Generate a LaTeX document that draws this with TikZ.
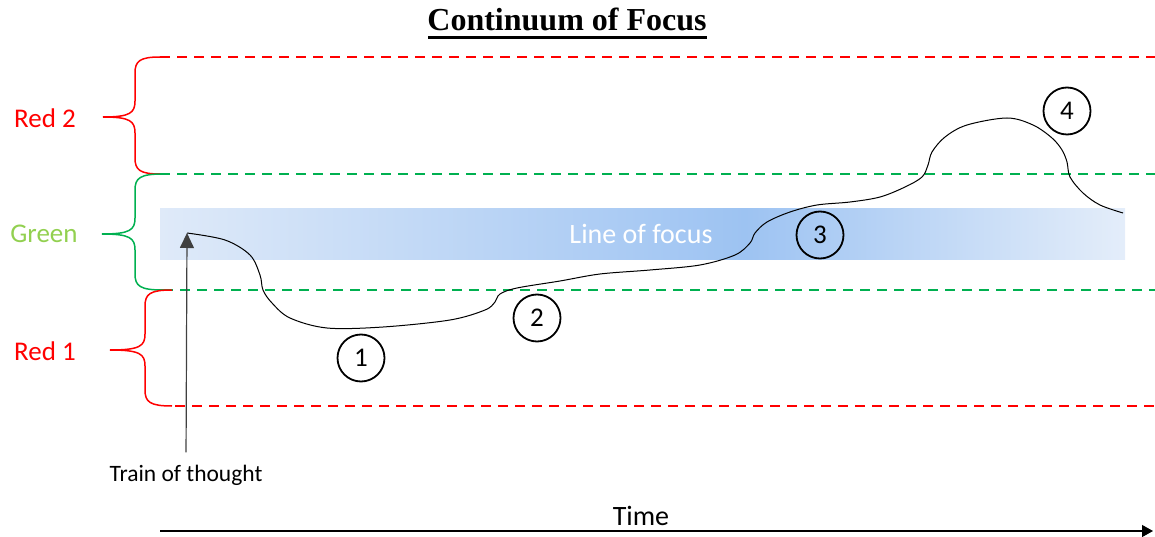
\documentclass[tikz,border=0pt]{standalone}
\usepackage{fontspec}
\setmainfont{Carlito}
\newfontfamily\titlefont{Liberation Serif}
\usetikzlibrary{arrows.meta}
\definecolor{myred}{HTML}{FF0000}
\definecolor{mygreen}{HTML}{00B050}
\definecolor{lblgreen}{HTML}{92D050}
\definecolor{bandlight}{HTML}{DFEAF9}
\definecolor{banddark}{HTML}{9DC3F2}
\newcommand\mybrace[7]{% color, xend, xbody, xtip, top, mid, bot
  \draw[#1, line width=1.5pt] (#2,#5) .. controls (#3+5,#5) and (#3,#5+4) .. (#3,#5+16)
    -- (#3,#6-16) .. controls (#3,#6-4) and (#3-5,#6) .. (#4,#6)
    .. controls (#3-5,#6) and (#3,#6+4) .. (#3,#6+16)
    -- (#3,#7-16) .. controls (#3,#7-4) and (#3+5,#7) .. (#2,#7);}
\tikzset{
  dashline/.style={line width=1.6pt, dash pattern=on 10pt off 7pt},
  lbl/.style={font=\fontsize{27}{30}\selectfont, anchor=center},
  circnum/.style={draw, circle, line width=1.8pt, minimum size=47pt, inner sep=0pt, font=\fontsize{27}{29}\selectfont},
}
\begin{document}
\begin{tikzpicture}[x=1pt,y=-1pt]
\useasboundingbox (0,0) rectangle (1155,537);
% title
\node[font=\titlefont\bfseries\fontsize{32}{34}\selectfont] (title) at (567,19) {Continuum of Focus};
\draw[line width=3pt] (428,38) -- (707,38);
% band
\shade[left color=bandlight, right color=banddark, draw=none] (160,209) rectangle (745,259);
\shade[left color=banddark, right color=bandlight!85!white, draw=none] (744.5,209) rectangle (1125,259);
\node[font=\fontsize{28}{30}\selectfont, text=white] (lof) at (641,234) {Line of focus};
% dashed lines
\coordinate (r2a) at (160,57); \coordinate (r2b) at (1155,57);
\coordinate (g1a) at (160,174); \coordinate (g1b) at (1155,174);
\coordinate (g2a) at (163,290); \coordinate (g2b) at (1155,290);
\coordinate (r1a) at (175,406); \coordinate (r1b) at (1155,406);
\draw[dashline, myred] (r2a) -- (r2b);
\draw[dashline, mygreen] (g1a) -- (g1b);
\draw[dashline, mygreen] (g2a) -- (g2b);
\draw[dashline, myred] (r1a) -- (r1b);
% braces
\mybrace{myred}{160}{135}{103}{57}{117}{174}
\mybrace{mygreen}{163}{135}{102}{174}{234}{290}
\mybrace{myred}{172}{145}{110}{290}{350}{406}
\node[lbl, text=myred] (lr2) at (45,118) {Red 2};
\node[lbl, text=lblgreen] (lg) at (44,234) {Green};
\node[lbl, text=myred] (lr1) at (45,351) {Red 1};
% train of thought curve
\coordinate (cstart) at (187,233);
\draw[line width=1pt] plot[smooth, tension=0.55] coordinates {(187,233) (225,240) (250,255) (260,275) (263,290) (272,303) (290,318) (327,328) (383,327) (450,320) (485,310) (495,302) (500,294) (517,288) (560,281) (600,274) (650,270) (700,265) (735,255) (750,243) (755,233) (767,222) (790,212) (817,205) (850,202) (880,197) (905,187) (922,177) (928,165) (932,152) (945,137) (967,125) (1007,118) (1033,125) (1052,138) (1062,150) (1067,162) (1070,177) (1083,193) (1100,205) (1123,213)};
% circles
\node[circnum] (c1) at (361,358) {1};
\node[circnum] (c2) at (537,318) {2};
\node[circnum] (c3) at (820,235) {3};
\node[circnum] (c4) at (1067,111) {4};
% train of thought arrow
\node[font=\fontsize{23.5}{25}\selectfont] (train) at (186,475) {Train of thought};
\draw[line width=1.2pt, black!75, -{Triangle[width=14pt,length=15pt]}, shorten <=9pt] (train.north) -- (cstart);
% time
\node[font=\fontsize{28}{30}\selectfont] (time) at (641,516) {Time};
\coordinate (t0) at (160,531); \coordinate (t1) at (1153,531);
\draw[line width=1.2pt, -{Triangle[width=12pt,length=11pt]}] (t0) -- (t1);
\end{tikzpicture}
\end{document}
